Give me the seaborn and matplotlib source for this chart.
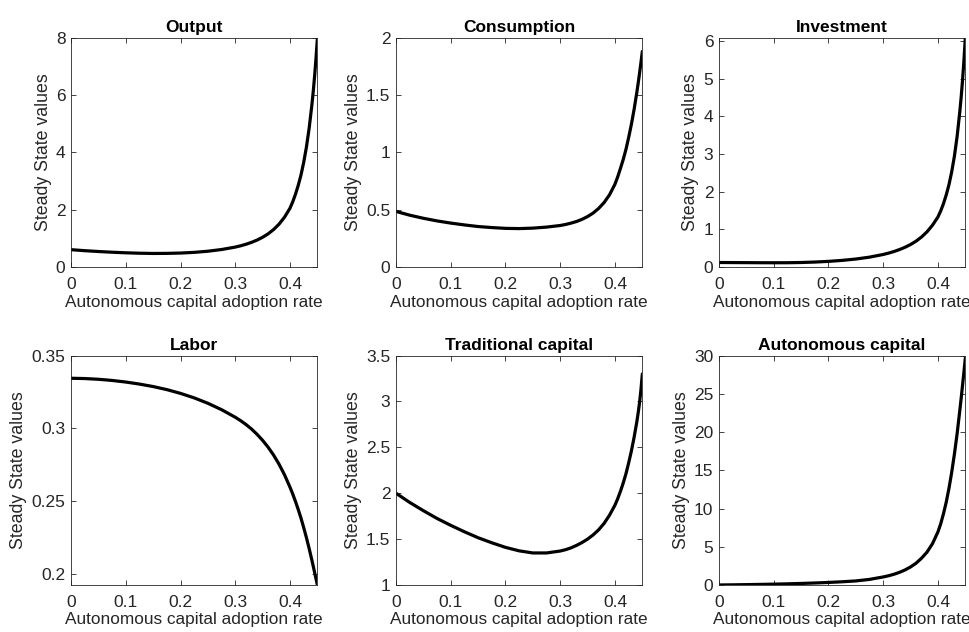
import numpy as np
import pandas as pd
import matplotlib
matplotlib.use("Agg")
import matplotlib.pyplot as plt
from matplotlib.ticker import FuncFormatter, FixedLocator
import seaborn as sns

# Autonomous capital adoption rate grid (finer near the upper end)
adoption_rate = [0.0, 0.025, 0.05, 0.075, 0.1, 0.125, 0.15, 0.175, 0.2, 0.225, 0.25, 0.275,
                 0.30, 0.31, 0.32, 0.33, 0.34, 0.35, 0.36, 0.37, 0.38, 0.39,
                 0.40, 0.405, 0.41, 0.415, 0.42, 0.425, 0.43, 0.435, 0.44,
                 0.4425, 0.445, 0.4475, 0.45]

# Steady state values per variable
output = [0.605, 0.570, 0.541, 0.516, 0.496, 0.481, 0.473, 0.476, 0.487, 0.511, 0.551, 0.610,
          0.695, 0.741, 0.796, 0.862, 0.941, 1.038, 1.157, 1.307, 1.496, 1.739,
          2.052, 2.276, 2.539, 2.846, 3.204, 3.649, 4.184, 4.845, 5.664,
          6.136, 6.672, 7.283, 7.97]
consumption = [0.485, 0.452, 0.425, 0.402, 0.383, 0.367, 0.353, 0.344, 0.337, 0.335, 0.339, 0.348,
               0.362, 0.371, 0.383, 0.397, 0.416, 0.440, 0.470, 0.510, 0.561, 0.629,
               0.722, 0.786, 0.859, 0.936, 1.024, 1.129, 1.244, 1.375, 1.524,
               1.606, 1.692, 1.783, 1.88]
investment = [0.120, 0.118, 0.116, 0.114, 0.113, 0.114, 0.120, 0.132, 0.150, 0.176, 0.212, 0.262,
              0.333, 0.370, 0.413, 0.465, 0.525, 0.598, 0.687, 0.797, 0.935, 1.11,
              1.33, 1.49, 1.68, 1.91, 2.18, 2.52, 2.94, 3.47, 4.14,
              4.53, 4.98, 5.50, 6.09]
labor = [0.3344, 0.3342, 0.3337, 0.3329, 0.3318, 0.3304, 0.3287, 0.3266, 0.3240, 0.3209, 0.3172, 0.3128,
         0.3076, 0.3052, 0.3025, 0.2994, 0.2958, 0.2917, 0.2870, 0.2816, 0.2753, 0.2680,
         0.2595, 0.2548, 0.2497, 0.2442, 0.2383, 0.2318, 0.2248, 0.2173, 0.2093,
         0.2051, 0.2008, 0.1965, 0.1923]
traditional_capital = [2.00, 1.90, 1.81, 1.725, 1.65, 1.58, 1.515, 1.46, 1.41, 1.372, 1.349, 1.349,
                       1.370, 1.385, 1.405, 1.432, 1.463, 1.50, 1.545, 1.60, 1.67, 1.76,
                       1.87, 1.94, 2.02, 2.11, 2.21, 2.33, 2.46, 2.61, 2.78,
                       2.88, 2.99, 3.13, 3.30]
autonomous_capital = [0.0, 0.02, 0.045, 0.075, 0.11, 0.15, 0.20, 0.26, 0.33, 0.42, 0.53, 0.73,
                      1.05, 1.21, 1.41, 1.66, 1.97, 2.36, 2.85, 3.5, 4.3, 5.4,
                      6.95, 8.0, 9.3, 10.8, 12.6, 14.7, 17.1, 19.8, 22.9,
                      24.5, 26.2, 27.9, 29.7]

titles = ["Output", "Consumption", "Investment",
          "Labor", "Traditional capital", "Autonomous capital"]
series = [output, consumption, investment, labor, traditional_capital, autonomous_capital]
y_limits = [(0, 8), (0, 2), (0, 6.09), (0.1923, 0.35), (1, 3.5), (0, 30)]
y_ticks = [[0, 2, 4, 6, 8], [0, 0.5, 1, 1.5, 2], [0, 1, 2, 3, 4, 5, 6],
           [0.2, 0.25, 0.3, 0.35], [1, 1.5, 2, 2.5, 3, 3.5], [0, 5, 10, 15, 20, 25, 30]]
x_ticks = [0, 0.1, 0.2, 0.3, 0.4]

sns.set_theme(style="white")
plt.rcParams["font.family"] = ["Liberation Sans", "DejaVu Sans"]

ink = "#262626"
fig = plt.figure(figsize=(9.7, 6.32), dpi=100)

col_left = [0.0732, 0.4082, 0.7412]
row_bottom = [0.5775, 0.0744]
ax_w, ax_h = 0.2540, 0.3630

fmt = FuncFormatter(lambda v, p: f"{v:g}")

for i, (title, vals) in enumerate(zip(titles, series)):
    r, c = divmod(i, 3)
    ax = fig.add_axes([col_left[c], row_bottom[r], ax_w, ax_h])
    df = pd.DataFrame({"rate": adoption_rate, "value": vals})
    sns.lineplot(data=df, x="rate", y="value", ax=ax, color="black",
                 linewidth=2.3, sort=True)
    ax.set_xlim(0, 0.45)
    ax.set_ylim(*y_limits[i])
    ax.xaxis.set_major_locator(FixedLocator(x_ticks))
    ax.yaxis.set_major_locator(FixedLocator(y_ticks[i]))
    ax.xaxis.set_major_formatter(fmt)
    ax.yaxis.set_major_formatter(fmt)
    ax.tick_params(direction="in", length=3.5, width=0.6, colors=ink,
                   labelsize=12.5, top=True, right=True, bottom=True, left=True)
    ax.tick_params(axis="x", pad=7)
    ax.tick_params(axis="y", pad=4)
    for sp in ax.spines.values():
        sp.set_color(ink)
        sp.set_linewidth(0.6)
        sp.set_visible(True)
    ax.set_title(title, fontsize=12.5, fontweight="bold", color="black", pad=4)
    ax.set_xlabel("Autonomous capital adoption rate", fontsize=12.4, color=ink, labelpad=2)
    ax.set_ylabel("Steady State values", fontsize=12.8, color=ink, labelpad=3)
    ax.grid(False)

fig.savefig("out.png", dpi=100, facecolor="white")
